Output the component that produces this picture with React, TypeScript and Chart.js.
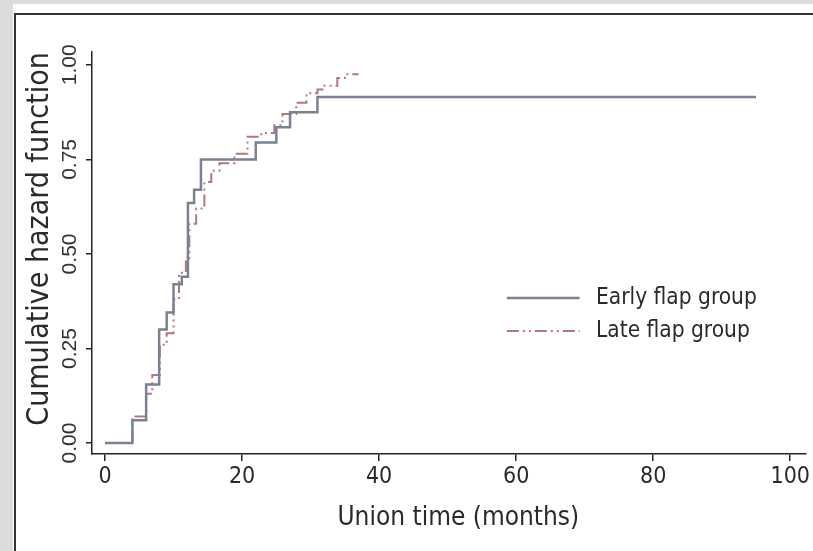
import React, { useEffect, useRef } from "react";
import { Chart, registerables } from "chart.js";

Chart.register(...registerables);

// ---- data ----
const seriesNames = ["Early flap group", "Late flap group"];
const earlyTimes = [0, 4, 6, 7.9, 9, 10, 11.2, 12.1, 13, 14, 22, 25, 27, 31, 95];
const earlyHazard = [0, 0.06, 0.155, 0.3, 0.345, 0.42, 0.44, 0.635, 0.67, 0.75, 0.795, 0.835, 0.875, 0.915, 0.915];
const lateTimes = [0, 4, 6, 6.9, 8, 9, 10, 10.8, 11.8, 12.3, 13.3, 14.5, 15.5, 16.7, 18.9, 20.8, 22.8, 24.7, 25.9, 27.9, 29.4, 31, 32, 33.9, 35, 37];
const lateHazard = [0, 0.07, 0.13, 0.18, 0.26, 0.29, 0.38, 0.45, 0.48, 0.58, 0.62, 0.69, 0.72, 0.74, 0.765, 0.81, 0.82, 0.84, 0.87, 0.9, 0.925, 0.935, 0.945, 0.965, 0.975, 0.975];
const xTicks = [0, 20, 40, 60, 80, 100];
const yTicks = [0, 0.25, 0.5, 0.75, 1];
const xTitle = "Union time (months)";
const yTitle = "Cumulative hazard function";

const NARROW = "'Liberation Sans Narrow', 'DejaVu Sans Condensed', 'Liberation Sans', sans-serif";
const EARLY_COLOR = "#7a8190";
const LATE_COLOR = "#b07880";
const LATE_DASH = [12, 4, 2, 4, 2, 4];
const TEXT_COLOR = "#2a2a2a";

const legendPlugin = {
  id: "insideLegend",
  afterDatasetsDraw(chart: any) {
    const { ctx, chartArea } = chart;
    const w = chartArea.right - chartArea.left;
    const h = chartArea.bottom - chartArea.top;
    const lx0 = chartArea.left + w * 0.581;
    const lx1 = chartArea.left + w * 0.683;
    const tx = chartArea.left + w * 0.706;
    const ys = [chartArea.top + h * 0.612, chartArea.top + h * 0.694];
    chart.data.datasets.forEach((ds: any, i: number) => {
      ctx.save();
      ctx.strokeStyle = ds.borderColor;
      ctx.lineWidth = ds.borderWidth;
      ctx.setLineDash(ds.borderDash || []);
      ctx.beginPath();
      ctx.moveTo(lx0, ys[i]);
      ctx.lineTo(lx1, ys[i]);
      ctx.stroke();
      ctx.setLineDash([]);
      ctx.fillStyle = TEXT_COLOR;
      ctx.font = `22.5px ${NARROW}`;
      ctx.textAlign = "left";
      ctx.textBaseline = "middle";
      ctx.fillText(ds.label, tx, ys[i]);
      ctx.restore();
    });
  },
};

const axisTitlePlugin = {
  id: "axisTitles",
  afterDraw(chart: any) {
    const { ctx, chartArea } = chart;
    const w = chartArea.right - chartArea.left;
    const h = chartArea.bottom - chartArea.top;
    ctx.save();
    ctx.fillStyle = TEXT_COLOR;
    ctx.textAlign = "center";
    ctx.textBaseline = "middle";
    ctx.font = `26px ${NARROW}`;
    ctx.fillText(xTitle, chartArea.left + w * 0.513, chartArea.bottom + 64);
    ctx.translate(40, chartArea.top + h * 0.465);
    ctx.rotate(-Math.PI / 2);
    ctx.font = `30px ${NARROW}`;
    ctx.fillText(yTitle, 0, 0);
    ctx.restore();
  },
};

export default function App() {
  const ref = useRef<HTMLCanvasElement>(null);
  useEffect(() => {
    if (!ref.current) return;
    const chart = new Chart(ref.current, {
      type: "line",
      data: {
        datasets: [
          {
            label: seriesNames[0],
            data: earlyTimes.map((t, i) => ({ x: t, y: earlyHazard[i] })),
            borderColor: EARLY_COLOR,
            borderWidth: 2.5,
            stepped: "before",
            pointRadius: 0,
            fill: false,
          },
          {
            label: seriesNames[1],
            data: lateTimes.map((t, i) => ({ x: t, y: lateHazard[i] })),
            borderColor: LATE_COLOR,
            borderWidth: 2,
            borderDash: LATE_DASH,
            stepped: "before",
            pointRadius: 0,
            fill: false,
          },
        ],
      },
      options: {
        animation: false,
        responsive: false,
        layout: { padding: { left: 0, top: 52, right: 7, bottom: 17 } },
        plugins: { legend: { display: false }, tooltip: { enabled: false } },
        scales: {
          x: {
            type: "linear",
            min: -1.9,
            max: 102.3,
            afterBuildTicks: (s: any) => {
              s.ticks = xTicks.map((v) => ({ value: v }));
            },
            afterFit: (s: any) => {
              s.height = 80;
            },
            grid: { display: true, drawOnChartArea: false, drawTicks: true, tickLength: 7, color: "#222", lineWidth: 1.5 },
            border: { display: true, color: "#222", width: 1.5 },
            ticks: { font: { family: NARROW, size: 23 }, color: TEXT_COLOR, padding: 2, maxRotation: 0, autoSkip: false },
            title: { display: false },
          },
          y: {
            type: "linear",
            min: -0.029,
            max: 1.034,
            afterBuildTicks: (s: any) => {
              s.ticks = yTicks.map((v) => ({ value: v }));
            },
            afterFit: (s: any) => {
              s.width = 92;
            },
            grid: { display: true, drawOnChartArea: false, drawTicks: true, tickLength: 6, color: "#222", lineWidth: 1.5 },
            border: { display: true, color: "#222", width: 1.5 },
            ticks: {
              font: { family: "'Liberation Sans', Arial, sans-serif", size: 21 },
              color: "#333",
              minRotation: 90,
              maxRotation: 90,
              crossAlign: "center",
              padding: -5,
              autoSkip: false,
              callback: (v: any) => Number(v).toFixed(2),
            },
            title: { display: false },
          },
        },
      },
      plugins: [legendPlugin, axisTitlePlugin],
    } as any);
    return () => chart.destroy();
  }, []);

  return (
    <div style={{ position: "fixed", left: 0, top: 0, width: 813, height: 551, background: "#dcdcdc", overflow: "hidden" }}>
      <div style={{ position: "absolute", left: 13, top: 4, right: 0, bottom: 0, background: "#ffffff" }} />
      <div
        style={{
          position: "absolute",
          left: 14,
          top: 13,
          width: 813 - 14,
          height: 551 - 13,
          borderTop: "2px solid #333",
          borderLeft: "2px solid #333",
          boxSizing: "border-box",
        }}
      />
      <canvas ref={ref} width={813} height={551} style={{ position: "absolute", left: 0, top: 0, width: 813, height: 551 }} />
    </div>
  );
}
